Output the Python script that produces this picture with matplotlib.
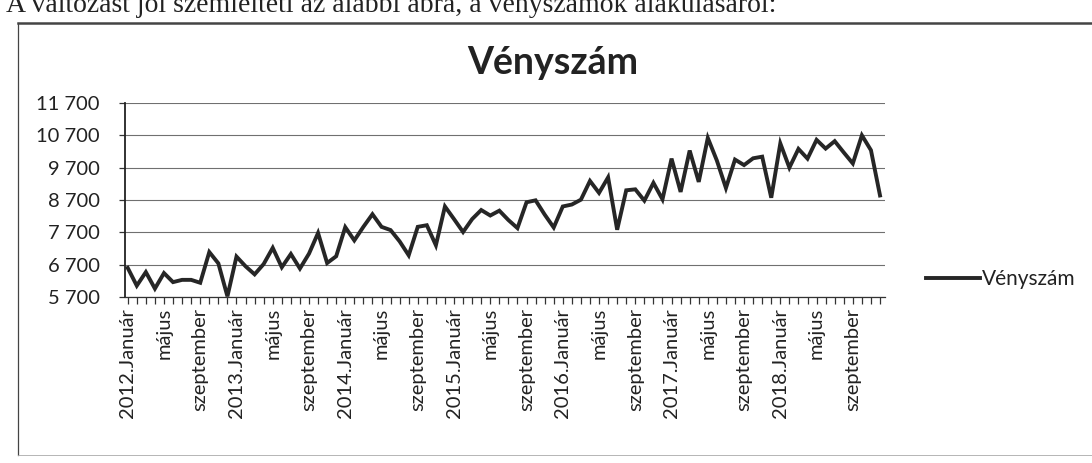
import matplotlib
matplotlib.use("Agg")
import matplotlib.pyplot as plt
from matplotlib.lines import Line2D
from matplotlib.ticker import FuncFormatter

plt.rcParams['font.family'] = ['Lato', 'DejaVu Sans']

month_names = ["Január", "február", "március", "április", "május", "június",
               "július", "augusztus", "szeptember", "október", "november", "december"]
years = [2012, 2013, 2014, 2015, 2016, 2017, 2018]

values = [
    6600, 6050, 6470, 5960, 6440, 6160, 6230, 6230, 6140, 7090, 6740, 5720,
    6950, 6650, 6400, 6720, 7220, 6620, 7030, 6580, 7040, 7680, 6750, 6960,
    7860, 7450, 7870, 8260, 7870, 7770, 7420, 6990, 7870, 7920, 7300, 8500,
    8110, 7710, 8110, 8390, 8220, 8370, 8080, 7830, 8630, 8690, 8250, 7850,
    8500, 8560, 8710, 9290, 8920, 9400, 7780, 9000, 9030, 8680, 9230, 8720,
    9980, 8950, 10230, 9260, 10620, 9920, 9070, 9950, 9780, 9990, 10040, 8770,
    10450, 9700, 10280, 9980, 10560, 10290, 10520, 10170, 9830, 10700, 10240, 8840,
]

categories = []
for y in years:
    for m, name in enumerate(month_names):
        categories.append(f"{y}.{name}" if m == 0 else name)

y_ticks = [5700, 6700, 7700, 8700, 9700, 10700, 11700]
series_name = "Vényszám"
title = "Vényszám"
page_text = "A változást jól szemlélteti az alábbi ábra, a vényszámok alakulásáról:"

W, H = 1092, 463
fig = plt.figure(figsize=(W / 100, H / 100), dpi=100)
fig.patch.set_facecolor("white")

# page text (cut at top, as in the scanned page)
fig.text(6 / W, 1 - 12 / H, page_text, family=["Liberation Serif", "DejaVu Serif"],
         fontsize=20, color="#222222", ha="left", va="baseline")

# chart border
border_kw = dict(color="#444444", transform=fig.transFigure)
fig.add_artist(Line2D([18 / W, 1.0], [1 - 23 / H, 1 - 23 / H], lw=1.8, **border_kw))
fig.add_artist(Line2D([18 / W, 18 / W], [1 - 23 / H, 1 - 455 / H], lw=0.9, **border_kw))
fig.add_artist(Line2D([18 / W, 1.0], [1 - 455 / H, 1 - 455 / H], lw=0.6, color="#aaaaaa",
                      transform=fig.transFigure))

ax = fig.add_axes([125 / W, 1 - 297 / H, (885 - 125) / W, (297 - 103) / H])
x = list(range(len(values)))
line, = ax.plot(x, values, color="#262626", lw=2.8, solid_joinstyle="miter", label=series_name)

ax.set_xlim(-0.3, len(values) - 0.45)
ax.set_ylim(y_ticks[0], y_ticks[-1])
ax.set_yticks(y_ticks)
ax.yaxis.set_major_formatter(FuncFormatter(lambda v, p: f"{int(v):,}".replace(",", " ")))
ax.grid(axis="y", color="#707070", lw=0.8)
ax.set_axisbelow(True)

ax.set_xticks(x)
ax.set_xticklabels([c if i % 4 == 0 else "" for i, c in enumerate(categories)],
                   rotation=90, fontsize=14.5, color="#222222")
ax.tick_params(axis="x", length=5, width=0.9, color="#333333", pad=3)
ax.tick_params(axis="y", length=4, width=0.9, color="#333333", labelsize=14.5,
               labelcolor="#222222", pad=14)

for s in ["top", "right"]:
    ax.spines[s].set_visible(False)
ax.spines["left"].set_color("#222222")
ax.spines["left"].set_linewidth(1.3)
ax.spines["bottom"].set_color("#333333")
ax.spines["bottom"].set_linewidth(0.9)

fig.text(553 / W, 1 - 63 / H, title, fontsize=27, fontweight="bold",
         color="#222222", ha="center", va="center")

leg = fig.legend(handles=[line], labels=[series_name], loc="center left",
                 bbox_to_anchor=(926 / W, 1 - 279 / H), frameon=False, fontsize=15,
                 handlelength=2.6, handletextpad=0.1, borderaxespad=0, borderpad=0)
for t in leg.get_texts():
    t.set_color("#222222")

fig.savefig("out.png", dpi=100, facecolor="white")
